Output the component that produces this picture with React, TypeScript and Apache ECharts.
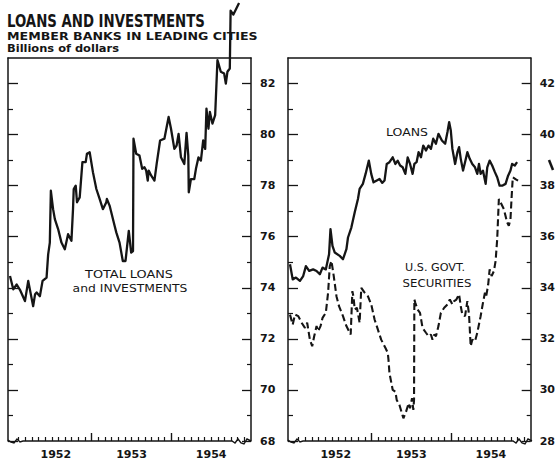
import React, { useEffect, useRef } from "react";
import * as echarts from "echarts";

// ---------- data (x = decimal year, y = billions of dollars) ----------
const totalDates = [1951.975,1952.016,1952.059,1952.10,1952.163,1952.204,1952.23,1952.266,1952.29,1952.309,1952.35,1952.384,1952.434,1952.454,1952.475,1952.488,1952.516,1952.538,1952.579,1952.621,1952.663,1952.704,1952.746,1952.766,1952.775,1952.80,1952.816,1952.85,1952.884,1952.925,1952.941,1952.975,1953.016,1953.059,1953.10,1953.141,1953.184,1953.191,1953.225,1953.246,1953.288,1953.309,1953.35,1953.391,1953.425,1953.466,1953.496,1953.519,1953.525,1953.559,1953.60,1953.634,1953.663,1953.684,1953.704,1953.716,1953.746,1953.788,1953.816,1953.859,1953.913,1953.941,1953.966,1953.996,1954.038,1954.066,1954.091,1954.121,1954.163,1954.191,1954.213,1954.219,1954.246,1954.288,1954.309,1954.341,1954.371,1954.40,1954.425,1954.441,1954.466,1954.484,1954.516,1954.55,1954.579,1954.621,1954.663,1954.684,1954.704,1954.734,1954.744,1954.779,1954.85];
const totalValues = [74.46,73.94,74.13,73.92,73.48,74.27,73.85,73.28,73.75,73.82,73.67,74.27,74.40,75.31,75.77,77.80,77.08,76.69,76.30,75.77,75.51,76.10,75.84,77.08,77.87,78.0,77.35,77.54,78.92,78.92,79.25,79.31,78.53,77.87,77.48,77.08,77.35,77.48,77.22,76.96,76.43,76.17,75.77,75.05,75.05,76.23,75.38,75.44,79.84,79.25,79.18,78.66,78.72,78.59,78.20,78.59,78.40,78.20,78.85,79.77,79.84,80.29,80.69,80.23,79.44,79.57,80.03,79.11,78.85,80.07,79.18,77.74,78.26,78.26,78.66,79.11,78.98,79.77,79.44,81.02,80.23,80.89,80.43,80.76,82.92,82.46,82.39,82.0,82.46,82.59,84.85,84.70,85.15];

const loansDates = [1951.975,1952.009,1952.05,1952.10,1952.141,1952.175,1952.216,1952.266,1952.309,1952.35,1952.384,1952.425,1952.466,1952.484,1952.509,1952.538,1952.60,1952.641,1952.684,1952.704,1952.746,1952.788,1952.829,1952.85,1952.891,1952.925,1952.966,1952.996,1953.025,1953.066,1953.10,1953.134,1953.163,1953.191,1953.225,1953.266,1953.30,1953.329,1953.359,1953.391,1953.425,1953.454,1953.484,1953.516,1953.538,1953.566,1953.591,1953.621,1953.65,1953.684,1953.716,1953.746,1953.775,1953.809,1953.841,1953.884,1953.925,1953.954,1953.975,1953.996,1954.016,1954.05,1954.079,1954.10,1954.121,1954.15,1954.175,1954.204,1954.234,1954.266,1954.30,1954.329,1954.35,1954.371,1954.40,1954.434,1954.454,1954.484,1954.516,1954.55,1954.579,1954.609,1954.641,1954.684,1954.716,1954.746,1954.766,1954.80,1954.829];
const loansValues = [34.92,34.33,34.40,34.27,34.46,34.85,34.66,34.72,34.66,34.53,34.79,34.72,35.31,36.30,35.64,35.38,35.25,35.12,35.51,35.97,36.36,36.95,37.48,37.87,38.07,38.46,38.98,38.46,38.13,38.20,38.26,38.11,38.20,38.85,38.92,39.11,38.85,38.98,38.79,38.72,38.46,39.11,38.85,38.46,38.85,38.92,39.31,39.11,39.57,39.38,39.57,39.44,39.84,39.64,40.03,39.77,39.64,40.10,40.49,40.16,39.44,38.85,39.31,39.51,39.05,38.59,38.92,39.31,39.05,38.85,38.72,38.46,38.85,38.46,38.59,38.07,38.72,38.98,38.79,38.53,38.33,38.0,38.0,38.07,38.39,38.59,38.85,38.79,38.92];

const govtDates = [1951.975,1952.009,1952.038,1952.079,1952.121,1952.163,1952.191,1952.225,1952.254,1952.279,1952.309,1952.329,1952.359,1952.384,1952.425,1952.454,1952.475,1952.496,1952.525,1952.559,1952.591,1952.641,1952.684,1952.738,1952.759,1952.775,1952.788,1952.816,1952.85,1952.871,1952.913,1952.954,1952.996,1953.038,1953.079,1953.121,1953.175,1953.204,1953.213,1953.225,1953.266,1953.30,1953.316,1953.35,1953.40,1953.434,1953.466,1953.484,1953.509,1953.525,1953.534,1953.538,1953.55,1953.579,1953.609,1953.641,1953.684,1953.716,1953.746,1953.766,1953.788,1953.809,1953.841,1953.871,1953.913,1953.954,1953.984,1954.016,1954.038,1954.066,1954.10,1954.121,1954.141,1954.175,1954.204,1954.225,1954.246,1954.266,1954.30,1954.329,1954.371,1954.40,1954.425,1954.441,1954.466,1954.484,1954.509,1954.538,1954.559,1954.579,1954.60,1954.621,1954.663,1954.704,1954.725,1954.746,1954.759,1954.775,1954.809,1954.841];
const govtValues = [32.95,32.56,32.95,32.89,32.63,32.43,32.63,31.97,31.71,32.10,32.50,32.30,32.50,32.82,33.02,33.81,34.85,35.05,34.46,33.67,33.28,32.89,32.50,32.17,33.87,33.61,33.15,33.22,32.63,34.0,33.81,33.67,33.35,32.76,32.37,31.97,31.64,31.45,31.18,30.66,30.0,29.93,29.61,29.42,28.89,29.15,29.48,29.28,29.68,29.22,29.61,33.54,33.41,33.15,33.02,32.43,32.24,32.10,32.17,31.97,32.17,32.10,32.50,33.02,33.22,33.35,33.54,33.35,33.48,33.54,33.74,33.28,32.95,32.89,33.48,32.95,31.71,31.97,31.90,32.24,32.89,33.41,33.81,33.67,34.13,34.72,34.46,34.66,35.05,35.90,37.48,37.35,37.08,36.56,36.43,36.69,37.48,38.33,38.26,38.20];

const leftMajorTicks = [68, 70, 72, 74, 76, 78, 80, 82];
const leftMinorTicks = [69, 71, 73, 75, 77, 79, 81];
const rightMajorTicks = [28, 30, 32, 34, 36, 38, 40, 42];
const rightMinorTicks = [29, 31, 33, 35, 37, 39, 41];
const yearLabels = ["1952", "1953", "1954"];
const yearLabelPositions = [1952.55, 1953.5, 1954.5];
const yearBoundaries = [1953, 1954];

const X_MIN = 1951.95;
const X_MAX = 1955.0;
const INK = "#151515";

const monthTicks: number[] = [];
for (let y = 1952; y < 1955; y++) for (let m = 1; m < 12; m++) monthTicks.push(y + m / 12);

function measure(text: string, font: string): number {
  const ctx = document.createElement("canvas").getContext("2d");
  if (!ctx) return 1;
  ctx.font = font;
  return ctx.measureText(text).width || 1;
}

function fitText(text: string, font: string, x: number, y: number, width: number, align: string) {
  const w = measure(text, font);
  return {
    type: "text",
    x,
    y,
    scaleX: width / w,
    z: 10,
    style: { text, font, fill: INK, align, verticalAlign: "middle" },
  };
}

function xAxes(gridIndex: number) {
  const base = { type: "value", gridIndex, min: X_MIN, max: X_MAX, splitLine: { show: false } };
  return [
    {
      ...base,
      position: "bottom",
      axisLine: { show: false, onZero: false },
      axisTick: { show: true, inside: true, length: 4, customValues: monthTicks, lineStyle: { color: INK, width: 1.2 } },
      axisLabel: {
        show: true,
        customValues: yearLabelPositions,
        formatter: (v: number) => yearLabels[yearLabelPositions.indexOf(v)] ?? "",
        color: INK,
        fontFamily: "DejaVu Sans",
        fontWeight: "bold",
        fontSize: 11,
        margin: 8,
      },
    },
    {
      ...base,
      position: "bottom",
      axisLine: { show: false, onZero: false },
      axisTick: { show: true, inside: true, length: 8, customValues: yearBoundaries, lineStyle: { color: INK, width: 1.4 } },
      axisLabel: { show: false },
    },
    {
      ...base,
      position: "top",
      axisLine: { show: true, onZero: false, lineStyle: { color: INK, width: 1.5 } },
      axisTick: { show: false },
      axisLabel: { show: false },
    },
  ];
}

function yAxes(gridIndex: number, min: number, max: number, major: number[], minor: number[]) {
  const base = { type: "value", gridIndex, min, max, splitLine: { show: false } };
  const line = { color: INK, width: 1.5 };
  return [
    {
      ...base,
      position: "right",
      axisLine: { show: true, onZero: false, lineStyle: line },
      axisTick: { show: true, inside: true, length: 9, customValues: major, lineStyle: { color: INK, width: 1.3 } },
      axisLabel: {
        show: true,
        customValues: major,
        color: INK,
        fontFamily: "DejaVu Sans",
        fontWeight: "bold",
        fontSize: 11,
        margin: 9,
      },
    },
    {
      ...base,
      position: "right",
      axisLine: { show: false, onZero: false },
      axisTick: { show: true, inside: true, length: 4, customValues: minor, lineStyle: { color: INK, width: 1.2 } },
      axisLabel: { show: false },
    },
    {
      ...base,
      position: "left",
      axisLine: { show: true, onZero: false, lineStyle: line },
      axisTick: { show: true, inside: true, length: 10, customValues: major, lineStyle: { color: INK, width: 1.3 } },
      axisLabel: { show: false },
    },
    {
      ...base,
      position: "left",
      axisLine: { show: false, onZero: false },
      axisTick: { show: true, inside: true, length: 5, customValues: minor, lineStyle: { color: INK, width: 1.2 } },
      axisLabel: { show: false },
    },
  ];
}

const pairs = (xs: number[], ys: number[]) => xs.map((x, i) => [x, ys[i]]);

export default function App() {
  const ref = useRef<HTMLDivElement>(null);

  useEffect(() => {
    if (!ref.current) return;
    const chart = echarts.init(ref.current, undefined, { renderer: "svg" });

    const bottomY = 441;
    const wiggle = (l: number, r: number) => ({
      type: "polyline",
      z: 5,
      shape: {
        points: [
          [l, bottomY - 1], [l + 3, bottomY + 1], [l + 6, bottomY + 2], [l + 9, bottomY - 2], [l + 12, bottomY + 1], [l + 15, bottomY],
          [r - 19, bottomY], [r - 16, bottomY + 2], [r - 13, bottomY - 2], [r - 10, bottomY + 2], [r - 7, bottomY + 3], [r - 4, bottomY - 2], [r, bottomY],
        ],
      },
      style: { stroke: INK, lineWidth: 1.4, fill: "none" },
    });

    const titleFont = 'bold 18px "DejaVu Sans Condensed"';
    const subFont = 'bold 11px "DejaVu Sans"';
    const unitFont = 'bold 10.5px "DejaVu Sans"';
    const labelFont = '11px "DejaVu Sans"';

    chart.setOption({
      animation: false,
      backgroundColor: "#ffffff",
      grid: [
        { left: 8, top: 58, width: 243, height: 383, containLabel: false },
        { left: 288, top: 58, width: 244, height: 383, containLabel: false },
      ],
      xAxis: [...xAxes(0), ...xAxes(1)],
      yAxis: [
        ...yAxes(0, 68, 83, leftMajorTicks, leftMinorTicks),
        ...yAxes(1, 28, 43, rightMajorTicks, rightMinorTicks),
      ],
      series: [
        {
          name: "Total loans and investments",
          type: "line",
          xAxisIndex: 0,
          yAxisIndex: 0,
          data: pairs(totalDates, totalValues),
          showSymbol: false,
          clip: false,
          z: 3,
          lineStyle: { color: INK, width: 2.3, join: "round" },
        },
        {
          name: "Loans",
          type: "line",
          xAxisIndex: 3,
          yAxisIndex: 4,
          data: pairs(loansDates, loansValues),
          showSymbol: false,
          clip: false,
          z: 3,
          lineStyle: { color: INK, width: 2.3, join: "round" },
        },
        {
          name: "U.S. Govt. securities",
          type: "line",
          xAxisIndex: 3,
          yAxisIndex: 4,
          data: pairs(govtDates, govtValues),
          showSymbol: false,
          clip: false,
          z: 3,
          lineStyle: { color: INK, width: 2.1, type: [7, 3.5] },
        },
      ],
      graphic: [
        fitText("LOANS AND INVESTMENTS", titleFont, 7, 21, 198, "left"),
        fitText("MEMBER BANKS IN LEADING CITIES", subFont, 7, 36, 251, "left"),
        fitText("Billions of dollars", unitFont, 7, 49, 112, "left"),
        fitText("TOTAL LOANS", labelFont, 129, 274, 88, "center"),
        fitText("and INVESTMENTS", labelFont, 130, 288.5, 115, "center"),
        fitText("LOANS", labelFont, 407, 132.5, 42, "center"),
        fitText("U.S. GOVT.", labelFont, 435, 268, 60, "center"),
        fitText("SECURITIES", labelFont, 437, 283, 69, "center"),
        wiggle(8, 251),
        wiggle(288, 532),
        {
          type: "line",
          shape: { x1: 549, y1: 160, x2: 553, y2: 170 },
          style: { stroke: INK, lineWidth: 2.5 },
        },
      ],
    });

    return () => chart.dispose();
  }, []);

  return (
    <div
      ref={ref}
      style={{ position: "fixed", left: 0, top: 0, width: 558, height: 461, background: "#fff" }}
    />
  );
}
